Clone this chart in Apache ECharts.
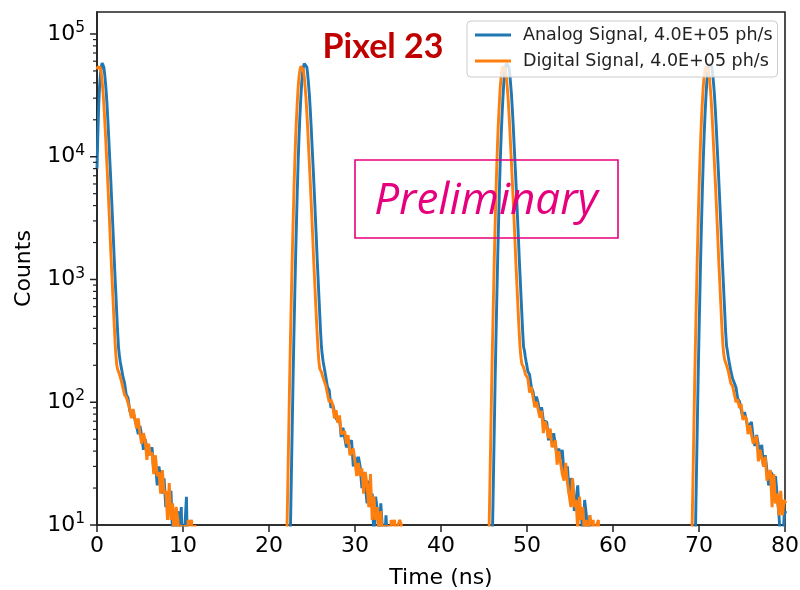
<!DOCTYPE html>
<html><head><meta charset="utf-8">
<script src="https://cdn.jsdelivr.net/npm/echarts@6/dist/echarts.min.js"></script>
<style>html,body{margin:0;padding:0;background:#fff}#c{width:800px;height:590px}</style>
</head><body><div id="c"></div>
<script>
// ---- tick definitions ----
const xTicks = [0, 10, 20, 30, 40, 50, 60, 70, 80];
const yMajorTicks = [10, 100, 1000, 10000, 100000];
const yMinorTicks = [20,30,40,50,60,70,80,90,200,300,400,500,600,700,800,900,2000,3000,4000,5000,6000,7000,8000,9000,20000,30000,40000,50000,60000,70000,80000,90000];
const seriesNames = ['Analog Signal, 4.0E+05 ph/s', 'Digital Signal, 4.0E+05 ph/s'];
const titleText = 'Pixel 23';
const stampText = 'Preliminary';

// ---- data: [time (ns), counts] ----
const analogPulse1 = [[0,8000],[0.1,15500],[0.2,26000],[0.3,37500],[0.4,47000],[0.5,54000],[0.6,58000],[0.7,57300],[0.8,53500],[0.9,46700],[1.0,39000],[1.1,31500],[1.2,24100],[1.3,17700],[1.4,12600],[1.5,9050],[1.6,6520],[1.7,4550],[1.8,3170],[1.9,2180],[2.0,1490],[2.1,1040],[2.2,745],[2.3,520],[2.4,375],[2.5,280],[2.6,242],[2.7,214],[2.8,196],[2.9,180],[3.0,163],
[3.2,144],[3.4,115],[3.6,109],[3.8,86],[4.0,77],[4.2,83],[4.4,83],[4.6,64],[4.8,55],[5.0,64],[5.2,53],[5.4,41],[5.6,50],[5.8,50],[6.0,37],[6.2,36],[6.4,43],[6.6,27],[6.8,32],[7.0,21],[7.2,30],[7.4,24],[7.6,18],[7.8,24],[8.0,14],[8.2,18],[8.4,13],[8.6,19],[8.8,8],[9.0,12],[9.2,9],[9.4,13],[9.6,9],[9.8,14],[10.0,4],[10.2,9],[10.4,17],[10.6,3],[10.8,1]];
const analogPulse2 = [[22.3,1],[22.4,3],[22.5,10],[22.6,25],[22.7,63],[22.8,158],[22.9,355],[23.0,760],[23.1,1580],[23.2,3020],[23.3,5620],[23.4,9550],[23.5,15100],[23.6,21900],[23.7,30200],[23.8,39800],[23.9,47900],[24.0,53700],[24.1,57500],[24.2,58200],[24.3,57500],[24.4,53700],[24.5,46800],[24.6,38900],[24.7,31600],[24.8,24000],[24.9,17800],[25.0,12600],[25.1,9100],[25.2,6500],[25.3,4570],[25.4,3160],[25.5,2190],[25.6,1480],[25.7,1050],[25.8,741],[25.9,525],[26.0,372],[26.1,282],[26.2,240],[26.3,214],[26.4,195],[26.5,178],[26.6,162],
[26.8,133],[27.0,126],[27.2,90],[27.4,96],[27.6,98],[27.8,74],[28.0,70],[28.2,73],[28.4,52],[28.6,62],[28.8,60],[29.0,43],[29.2,44],[29.4,47],[29.6,49],[29.8,30],[30.0,36],[30.2,29],[30.4,36],[30.6,30],[30.8,20],[31.0,27],[31.2,21],[31.4,15],[31.6,23],[31.8,14],[32.0,18],[32.2,8],[32.4,17],[32.6,13],[32.8,8],[33.0,15],[33.2,9],[33.4,6],[33.6,12],[33.8,7],[34.0,2]];
const analogPulse3 = [[45.8,1],[45.9,3],[46.0,10],[46.1,25],[46.2,63],[46.3,158],[46.4,355],[46.5,760],[46.6,1580],[46.7,3020],[46.8,5620],[46.9,9550],[47.0,15100],[47.1,21900],[47.2,30200],[47.3,39800],[47.4,47900],[47.5,53700],[47.6,57500],[47.7,58200],[47.8,57500],[47.9,53700],[48.0,46800],[48.1,38900],[48.2,31600],[48.3,24000],[48.4,17800],[48.5,12600],[48.6,9100],[48.7,6500],[48.8,4570],[48.9,3160],[49.0,2190],[49.1,1480],[49.2,1050],[49.3,741],[49.4,525],[49.5,372],[49.6,282],[49.7,264],[49.8,235],[49.9,214],[50.0,196],[50.1,178],
[50.3,168],[50.5,133],[50.7,122],[50.9,99],[51.1,111],[51.3,98],[51.5,78],[51.7,91],[51.9,71],[52.1,69],[52.3,69],[52.5,49],[52.7,59],[52.9,47],[53.1,56],[53.3,45],[53.5,36],[53.7,42],[53.9,34],[54.1,41],[54.3,27],[54.5,26],[54.7,30],[54.9,18],[55.1,24],[55.3,23],[55.5,13],[55.7,16],[55.9,21],[56.1,11],[56.3,14],[56.5,7],[56.7,16],[56.9,12],[57.1,5],[57.3,12],[57.5,4],[57.7,1]];
const analogPulse4 = [[69.4,1],[69.5,3],[69.6,10],[69.7,25],[69.8,63],[69.9,158],[70.0,355],[70.1,760],[70.2,1580],[70.3,3020],[70.4,5620],[70.5,9550],[70.6,15100],[70.7,21900],[70.8,30200],[70.9,39800],[71.0,47900],[71.1,53700],[71.2,57500],[71.3,58200],[71.4,57500],[71.5,53700],[71.6,46800],[71.7,38900],[71.8,31600],[71.9,24000],[72.0,17800],[72.1,12600],[72.2,9100],[72.3,6500],[72.4,4570],[72.5,3160],[72.6,2190],[72.7,1480],[72.8,1050],[72.9,741],[73.0,525],[73.1,372],[73.2,290],[73.3,262],[73.4,236],[73.5,214],[73.6,196],[73.7,180],
[73.9,156],[74.1,144],[74.3,132],[74.5,107],[74.7,102],[74.9,105],[75.1,75],[75.3,83],[75.5,80],[75.7,62],[75.9,64],[76.1,69],[76.3,51],[76.5,44],[76.7,54],[76.9,45],[77.1,39],[77.3,45],[77.5,30],[77.7,37],[77.9,36],[78.1,21],[78.3,27],[78.5,26],[78.7,19],[78.9,25],[79.1,17],[79.3,12],[79.5,7],[79.7,6],[79.9,12],[80.1,13]];

const digitalPulse1 = [[0,51500],[0.1,54000],[0.2,55300],[0.3,55000],[0.4,53000],[0.5,48000],[0.6,41000],[0.7,33500],[0.8,26500],[0.9,19800],[1.0,14500],[1.1,10300],[1.2,7400],[1.3,5250],[1.4,3650],[1.5,2520],[1.6,1720],[1.7,1200],[1.8,850],[1.9,600],[2.0,430],[2.1,310],[2.2,240],[2.3,200],[2.4,186],[2.5,180],[2.6,170],[2.7,160],[2.8,152],
[3.0,147],[3.2,115],[3.4,110],[3.6,109],[3.8,89],[4.0,74],[4.2,88],[4.4,74],[4.6,61],[4.8,74],[5.0,55],[5.2,46],[5.4,56],[5.6,49],[5.8,34],[6.0,46],[6.2,37],[6.4,39],[6.6,26],[6.8,37],[7.0,25],[7.2,27],[7.4,18],[7.6,28],[7.8,18],[8.0,19],[8.2,11],[8.4,22],[8.6,11],[8.8,15],[9.0,7],[9.2,14],[9.4,11],[9.6,7],[9.8,10],[10.0,6],[10.2,10],[10.4,3],[10.6,11],[10.8,10],[11.0,11],[11.2,4],[11.4,10],[11.6,2]];
const digitalPulse2 = [[21.9,1],[22.0,3],[22.1,10],[22.2,24],[22.3,60],[22.4,150],[22.5,337],[22.6,722],[22.7,1500],[22.8,2870],[22.9,5340],[23.0,9070],[23.1,14300],[23.2,20800],[23.3,28700],[23.4,37800],[23.5,45500],[23.6,51000],[23.7,54600],[23.8,55300],[23.9,54600],[24.0,51000],[24.1,44500],[24.2,37000],[24.3,30000],[24.4,22800],[24.5,16900],[24.6,12000],[24.7,8650],[24.8,6200],[24.9,4350],[25.0,3000],[25.1,2080],[25.2,1400],[25.3,1000],[25.4,705],[25.5,500],[25.6,360],[25.7,270],[25.8,215],[25.9,188],[26.0,184],[26.1,176],[26.2,166],[26.3,158],[26.4,150],
[26.6,137],[26.8,138],[27.0,100],[27.2,105],[27.4,96],[27.6,74],[27.8,86],[28.0,68],[28.2,78],[28.4,55],[28.6,57],[28.8,58],[29.0,46],[29.2,54],[29.4,37],[29.6,39],[29.8,42],[30.0,41],[30.2,25],[30.4,32],[30.6,25],[30.8,29],[31.0,18],[31.2,27],[31.4,21],[31.6,14],[31.8,26],[32.0,11],[32.2,17],[32.4,11],[32.6,14],[32.8,7],[33.0,13],[33.2,8],[33.4,10],[33.6,5],[33.8,10],[34.0,3],[34.2,11],[34.4,10],[34.6,11],[34.8,6],[35.0,10],[35.2,11],[35.4,10],[35.6,2]];
const digitalPulse3 = [[45.4,1],[45.5,3],[45.6,10],[45.7,24],[45.8,60],[45.9,150],[46.0,337],[46.1,722],[46.2,1500],[46.3,2870],[46.4,5340],[46.5,9070],[46.6,14300],[46.7,20800],[46.8,28700],[46.9,37800],[47.0,45500],[47.1,51000],[47.2,54600],[47.3,55300],[47.4,54600],[47.5,51000],[47.6,44500],[47.7,37000],[47.8,30000],[47.9,22800],[48.0,16900],[48.1,12000],[48.2,8650],[48.3,6200],[48.4,4350],[48.5,3000],[48.6,2080],[48.7,1400],[48.8,1000],[48.9,705],[49.0,500],[49.1,360],[49.2,275],[49.3,230],[49.4,205],[49.5,200],[49.6,192],[49.7,182],[49.8,170],[49.9,168],
[50.1,156],[50.3,120],[50.5,133],[50.7,110],[50.9,91],[51.1,101],[51.3,87],[51.5,75],[51.7,85],[51.9,56],[52.1,70],[52.3,62],[52.5,51],[52.7,61],[52.9,43],[53.1,45],[53.3,49],[53.5,31],[53.7,40],[53.9,39],[54.1,26],[54.3,23],[54.5,32],[54.7,22],[54.9,22],[55.1,14],[55.3,24],[55.5,14],[55.7,16],[55.9,9],[56.1,17],[56.3,11],[56.5,14],[56.7,8],[56.9,11],[57.1,5],[57.3,12],[57.5,10],[57.7,11],[57.9,6],[58.1,10],[58.3,11],[58.5,3],[58.7,1]];
const digitalPulse4 = [[69.0,1],[69.1,3],[69.2,10],[69.3,24],[69.4,60],[69.5,150],[69.6,337],[69.7,722],[69.8,1500],[69.9,2870],[70.0,5340],[70.1,9070],[70.2,14300],[70.3,20800],[70.4,28700],[70.5,37800],[70.6,45500],[70.7,51000],[70.8,54600],[70.9,55300],[71.0,54600],[71.1,51000],[71.2,44500],[71.3,37000],[71.4,30000],[71.5,22800],[71.6,16900],[71.7,12000],[71.8,8650],[71.9,6200],[72.0,4350],[72.1,3000],[72.2,2080],[72.3,1400],[72.4,1000],[72.5,705],[72.6,500],[72.7,360],[72.8,280],[72.9,240],[73.0,220],[73.1,212],[73.2,200],[73.3,190],[73.4,180],
[73.7,142],[73.9,136],[74.1,131],[74.3,100],[74.5,105],[74.7,90],[74.9,97],[75.1,72],[75.3,77],[75.5,74],[75.7,55],[75.9,65],[76.1,64],[76.3,46],[76.5,46],[76.7,53],[76.9,33],[77.1,41],[77.3,40],[77.5,30],[77.7,36],[77.9,23],[78.1,26],[78.3,28],[78.5,14],[78.7,26],[78.9,15],[79.1,18],[79.3,12],[79.5,19],[79.7,12],[79.9,16],[80.1,15]];

const analogData = [].concat(analogPulse1, analogPulse2, analogPulse3, analogPulse4);
const digitalData = [].concat(digitalPulse1, digitalPulse2, digitalPulse3, digitalPulse4);

const FONT = 'DejaVu Sans';
const AX = '#222';
const chart = echarts.init(document.getElementById('c'), null, {renderer: 'canvas'});

function tickSeries(values, len, width) {
  return {
    type: 'custom', silent: true, clip: false, z: 5,
    encode: {x: 0, y: 1},
    data: values.map(v => [xTicks[0], v]),
    renderItem: function (params, api) {
      const c = api.coord([api.value(0), api.value(1)]);
      return {type: 'line', shape: {x1: c[0] - len, y1: c[1], x2: c[0], y2: c[1]},
        style: {stroke: AX, lineWidth: width}};
    }
  };
}

const option = {
  animation: false,
  backgroundColor: '#ffffff',
  grid: {left: 97, right: 15, top: 12, bottom: 65, show: true, borderColor: AX, borderWidth: 1.6,
    backgroundColor: 'transparent', containLabel: false, outerBoundsMode: 'none'},
  xAxis: {
    type: 'value', min: xTicks[0], max: xTicks[xTicks.length - 1], interval: 10,
    name: 'Time (ns)', nameLocation: 'middle', nameGap: 42,
    nameTextStyle: {fontFamily: FONT, fontSize: 22, color: '#000'},
    axisLine: {show: true, onZero: false, lineStyle: {color: AX, width: 1.6}},
    axisTick: {show: true, inside: false, length: 7, lineStyle: {color: AX, width: 1.5}},
    axisLabel: {fontFamily: FONT, fontSize: 22, color: '#000', margin: 10},
    splitLine: {show: false}
  },
  yAxis: {
    type: 'log', logBase: 10, min: 10, max: 151000,
    name: 'Counts', nameLocation: 'middle', nameGap: 62, nameRotate: 90,
    nameTextStyle: {fontFamily: FONT, fontSize: 22, color: '#000'},
    axisLine: {show: true, lineStyle: {color: AX, width: 1.6}},
    axisTick: {show: false},
    minorTick: {show: false},
    splitLine: {show: false},
    axisLabel: {
      margin: 12, align: 'right',
      formatter: function (v) {
        const lg = Math.log10(v);
        const e = Math.round(lg);
        if (Math.abs(lg - e) > 1e-6 || yMajorTicks.indexOf(Math.pow(10, e)) < 0) return '';
        return '{b|10}{s|' + e + '}';
      },
      rich: {
        b: {fontFamily: FONT, fontSize: 22, color: '#000', lineHeight: 28},
        s: {fontFamily: FONT, fontSize: 15.5, color: '#000', verticalAlign: 'top', lineHeight: 16}
      }
    }
  },
  legend: {
    data: seriesNames, orient: 'vertical', left: 467, top: 21,
    icon: 'rect', itemWidth: 36, itemHeight: 2.8, itemGap: 6,
    padding: [4, 5, 6, 8],
    backgroundColor: 'rgba(255,255,255,0.8)', borderColor: '#cccccc', borderWidth: 1, borderRadius: 4,
    selectedMode: false,
    textStyle: {fontFamily: FONT, fontSize: 17.5, color: '#222', lineHeight: 20, padding: [0, 0, 0, 7]}
  },
  series: [
    {name: seriesNames[0], type: 'line', data: analogData, showSymbol: false, symbol: 'none',
      clip: true, z: 2, lineStyle: {color: '#1f77b4', width: 2.9}, itemStyle: {color: '#1f77b4'}},
    {name: seriesNames[1], type: 'line', data: digitalData, showSymbol: false, symbol: 'none',
      clip: true, z: 3, lineStyle: {color: '#ff7f0e', width: 2.9}, itemStyle: {color: '#ff7f0e'}},
    tickSeries(yMajorTicks, 7, 1.5),
    tickSeries(yMinorTicks, 4, 1.2)
  ],
  graphic: [
    {type: 'text', x: 383, y: 47, z: 20,
      style: {text: titleText, font: 'bold 34px Lato', fill: '#c00000',
        textAlign: 'center', textVerticalAlign: 'middle', align: 'center', verticalAlign: 'middle'}},
    {type: 'rect', z: 20, shape: {x: 355, y: 160, width: 263, height: 78},
      style: {fill: 'none', stroke: '#e6007e', lineWidth: 1.6}},
    {type: 'text', x: 486, y: 201, z: 20,
      style: {text: stampText, font: 'italic 44px "Open Sans"', fill: '#e6007e',
        textAlign: 'center', textVerticalAlign: 'middle', align: 'center', verticalAlign: 'middle'}}
  ]
};
chart.setOption(option);
</script></body></html>
